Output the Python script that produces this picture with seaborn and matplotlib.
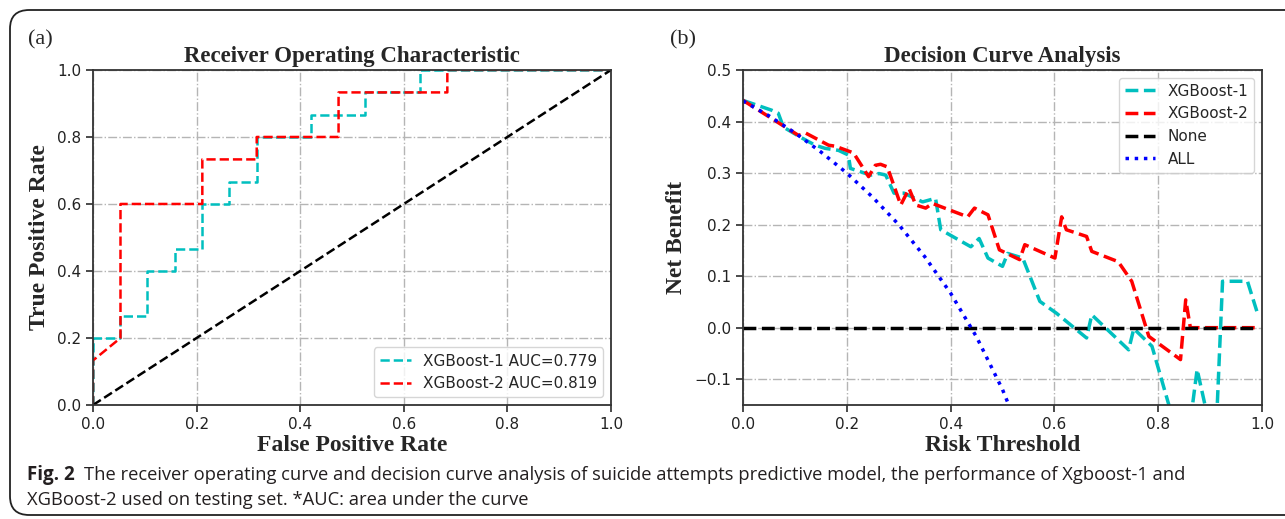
import matplotlib
matplotlib.use("Agg")
import matplotlib.pyplot as plt
from matplotlib.patches import FancyBboxPatch
import pandas as pd
import seaborn as sns

# ROC curves (testing set)
roc_fpr_xgb1 = [0, 0, 0.053, 0.053, 0.105, 0.105, 0.158, 0.158, 0.211, 0.211, 0.263,
                0.263, 0.316, 0.316, 0.421, 0.421, 0.526, 0.526, 0.632, 0.632, 1.0]
roc_tpr_xgb1 = [0, 0.2, 0.2, 0.267, 0.267, 0.4, 0.4, 0.467, 0.467, 0.6, 0.6,
                0.667, 0.667, 0.8, 0.8, 0.867, 0.867, 0.933, 0.933, 1.0, 1.0]
roc_fpr_xgb2 = [0, 0, 0.053, 0.053, 0.211, 0.211, 0.316, 0.316, 0.474, 0.474, 0.684, 0.684, 1.0]
roc_tpr_xgb2 = [0, 0.133, 0.2, 0.6, 0.6, 0.733, 0.733, 0.8, 0.8, 0.933, 0.933, 1.0, 1.0]
roc_chance = [0, 1]
auc_xgb1 = 0.779
auc_xgb2 = 0.819

# Decision curves
dca_thr_xgb1 = [0, 0.055, 0.068, 0.078, 0.11, 0.139, 0.158, 0.184, 0.203, 0.207, 0.246,
                0.262, 0.275, 0.291, 0.31, 0.346, 0.371, 0.381, 0.439, 0.455, 0.472,
                0.50, 0.51, 0.539, 0.572, 0.604, 0.662, 0.672, 0.743, 0.753, 0.788,
                0.852, 0.875, 0.91, 0.924, 0.972, 0.99]
dca_nb_xgb1 = [0.441, 0.422, 0.416, 0.389, 0.370, 0.354, 0.348, 0.344, 0.335, 0.309, 0.296,
               0.299, 0.296, 0.261, 0.261, 0.244, 0.251, 0.190, 0.157, 0.173, 0.135,
               0.119, 0.144, 0.135, 0.051, 0.028, -0.020, 0.025, -0.043, -0.002, -0.036,
               -0.26, -0.081, -0.24, 0.090, 0.090, 0.032]
dca_thr_xgb2 = [0, 0.107, 0.12, 0.165, 0.178, 0.213, 0.242, 0.255, 0.265, 0.278, 0.304,
                0.32, 0.333, 0.352, 0.365, 0.433, 0.446, 0.472, 0.494, 0.533, 0.543,
                0.601, 0.614, 0.623, 0.662, 0.672, 0.723, 0.749, 0.782, 0.843, 0.853,
                0.862, 0.99]
dca_nb_xgb2 = [0.441, 0.373, 0.378, 0.354, 0.352, 0.339, 0.293, 0.315, 0.317, 0.312, 0.238,
               0.270, 0.238, 0.232, 0.241, 0.215, 0.232, 0.219, 0.151, 0.132, 0.161,
               0.135, 0.215, 0.190, 0.177, 0.148, 0.128, 0.090, -0.017, -0.062, 0.054,
               0.0, 0.0]
dca_thr_none = [0, 0.99]
dca_nb_none = [0, 0]
dca_thr_all = [0, 0.05, 0.1, 0.15, 0.2, 0.25, 0.3, 0.35, 0.4, 0.45, 0.5, 0.55]
dca_nb_all = [0.44, 0.411, 0.378, 0.341, 0.30, 0.253, 0.20, 0.138, 0.067, -0.018, -0.12, -0.244]

caption_bold = "Fig. 2"
caption_line1 = ("The receiver operating curve and decision curve analysis of suicide attempts "
                 "predictive model, the performance of Xgboost-1 and")
caption_line2 = "XGBoost-2 used on testing set. *AUC: area under the curve"

CYAN = "#00bfbf"
RED = "#ff0000"
BLUE = "#0000ff"
BLACK = "#000000"

sns.set_theme(style="ticks", color_codes=False,
              rc={"axes.edgecolor": "#333333",
                  "axes.linewidth": 1.3,
                  "xtick.color": "#333333",
                  "ytick.color": "#333333",
                  "xtick.labelcolor": "#222222",
                  "ytick.labelcolor": "#222222",
                  "xtick.major.size": 5,
                  "ytick.major.size": 5,
                  "legend.fancybox": True})
plt.rcParams["font.family"] = ["DejaVu Sans"]

serif = ["Liberation Serif", "DejaVu Serif"]

fig = plt.figure(figsize=(12.85, 5.19), dpi=100)
ax1 = fig.add_axes([0.0724, 0.2197, 0.4031, 0.6455])
ax2 = fig.add_axes([0.5782, 0.2197, 0.4039, 0.6455])

# rounded frame around the whole figure
frame = FancyBboxPatch((10 / 1285, 4 / 519), 1.2, 505 / 519,
                       boxstyle="round,pad=0,rounding_size=0.015",
                       transform=fig.transFigure, fill=False,
                       ec="#222222", lw=1.3, mutation_aspect=2.4)
fig.patches.append(frame)

# --- ROC ---
sns.lineplot(x=roc_fpr_xgb1, y=roc_tpr_xgb1, ax=ax1, color=CYAN, linestyle="--", lw=1.8,
             estimator=None, sort=False, label=f"XGBoost-1 AUC={auc_xgb1:.3f}")
sns.lineplot(x=roc_fpr_xgb2, y=roc_tpr_xgb2, ax=ax1, color=RED, linestyle="--", lw=1.8,
             estimator=None, sort=False, label=f"XGBoost-2 AUC={auc_xgb2:.3f}")
sns.lineplot(x=roc_chance, y=roc_chance, ax=ax1, color=BLACK, linestyle="--", lw=1.8,
             estimator=None, sort=False)
ax1.set_xlim(0, 1)
ax1.set_ylim(0, 1)
ax1.set_title("Receiver Operating Characteristic", family=serif, weight="bold",
              fontsize=16.5, pad=6)
ax1.set_xlabel("False Positive Rate", family=serif, weight="bold", fontsize=17, labelpad=2)
ax1.set_ylabel("True Positive Rate", family=serif, weight="bold", fontsize=17, labelpad=5)
ax1.legend(loc="lower right", fontsize=11, framealpha=0.8)

# --- DCA ---
sns.lineplot(x=dca_thr_xgb1, y=dca_nb_xgb1, ax=ax2, color=CYAN, linestyle="--", lw=2.5,
             estimator=None, sort=False, label="XGBoost-1")
sns.lineplot(x=dca_thr_xgb2, y=dca_nb_xgb2, ax=ax2, color=RED, linestyle="--", lw=2.5,
             estimator=None, sort=False, label="XGBoost-2")
sns.lineplot(x=dca_thr_none, y=dca_nb_none, ax=ax2, color=BLACK, linestyle="--", lw=2.5,
             estimator=None, sort=False, label="None")
sns.lineplot(x=dca_thr_all, y=dca_nb_all, ax=ax2, color=BLUE, linestyle=":", lw=2.5,
             estimator=None, sort=False, label="ALL")
ax2.set_xlim(0, 1)
ax2.set_ylim(-0.15, 0.5)
ax2.set_yticks([-0.1, 0.0, 0.1, 0.2, 0.3, 0.4, 0.5])
ax2.set_title("Decision Curve Analysis", family=serif, weight="bold", fontsize=16.5, pad=6)
ax2.set_xlabel("Risk Threshold", family=serif, weight="bold", fontsize=17, labelpad=2)
ax2.set_ylabel("Net Benefit", family=serif, weight="bold", fontsize=17, labelpad=5)
ax2.legend(loc="upper right", fontsize=11, framealpha=0.8)

for ax in (ax1, ax2):
    ax.set_xticks([0, 0.2, 0.4, 0.6, 0.8, 1.0])
    ax.tick_params(labelsize=11)
    ax.grid(True, linestyle="-.", color="#b5b5b5", lw=1.0)
    ax.set_axisbelow(True)
    for s in ax.spines.values():
        s.set_visible(True)

fig.text(28 / 1285, 1 - 40 / 519, "(a)", family=serif, fontsize=16, va="center")
fig.text(670 / 1285, 1 - 40 / 519, "(b)", family=serif, fontsize=16, va="center")

# caption
cap_font = ["Open Sans", "DejaVu Sans"]
t_bold = fig.text(27 / 1285, 1 - 475 / 519, caption_bold, family=cap_font, weight="bold",
                  fontsize=13.5, va="center", color="#231f20")
fig.canvas.draw()
bb = t_bold.get_window_extent()
fig.text((bb.x1 + 9) / 1285, 1 - 475 / 519, caption_line1, family=cap_font,
         fontsize=13.2, va="center", color="#231f20")
fig.text(27 / 1285, 1 - 500 / 519, caption_line2, family=cap_font,
         fontsize=13.2, va="center", color="#231f20")

fig.savefig("out.png", dpi=100)
